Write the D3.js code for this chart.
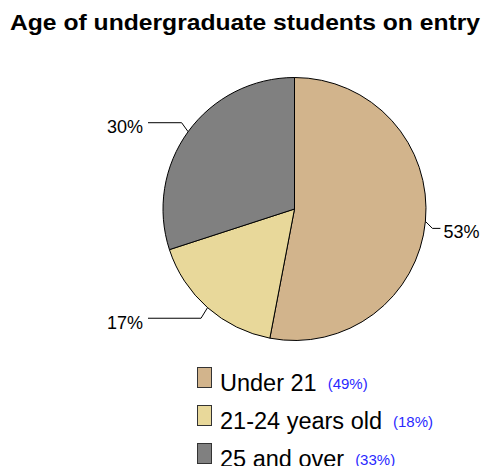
<!DOCTYPE html>
<html><head><meta charset="utf-8">
<script src="https://cdn.jsdelivr.net/npm/d3@7"></script>
<style>body{margin:0;background:#fff}svg{display:block}text{font-family:"Liberation Sans",Arial,sans-serif}</style>
</head><body>
<script>
const title = "Age of undergraduate students on entry";
const categories = ["Under 21", "21-24 years old", "25 and over"];
const values = [53, 17, 30];
const legendPct = ["(49%)", "(18%)", "(33%)"];
const colors = ["#D2B48C", "#E8D89A", "#808080"];

const W = 488, H = 466;
const svg = d3.select("body").append("svg").attr("width", W).attr("height", H);

svg.append("text").attr("x", 10).attr("y", 30)
  .attr("font-size", 22).attr("font-weight", "bold")
  .attr("textLength", 470).attr("lengthAdjust", "spacingAndGlyphs")
  .text(title);

const cx = 294.5, cy = 209, r = 131.5;
const pie = d3.pie().sort(null).value(d => d)(values);
const arc = d3.arc().innerRadius(0).outerRadius(r);
const g = svg.append("g").attr("transform", `translate(${cx},${cy})`);
g.selectAll("path").data(pie).join("path")
  .attr("d", arc).attr("fill", (d, i) => colors[i])
  .attr("stroke", "#000").attr("stroke-width", 1).attr("stroke-linejoin", "round");

// leader lines + labels
const lab = g.append("g");
pie.forEach((d, i) => {
  const a = (d.startAngle + d.endAngle) / 2;
  const ex = r * Math.sin(a), ey = -r * Math.cos(a);
  const right = Math.sin(a) > 0;
  let pts, tx, ty, anchor;
  if (right) {
    const elx = ex + 7, ely = ey + 7;
    pts = [[ex, ey], [elx, ely], [elx + 8, ely]];
    tx = elx + 11; ty = ely + 10; anchor = "start";
  } else {
    const down = Math.cos(a) < 0;
    const elx = ex - 6.5, ely = down ? ey + 10.6 : ey - 9;
    pts = [[ex, ey], [elx, ely], [-cx + 148, ely]];
    tx = -cx + 143; ty = ely + 10.5; anchor = "end";
  }
  lab.append("path").attr("d", d3.line()(pts)).attr("fill", "none")
    .attr("stroke", "#000").attr("stroke-width", 1);
  lab.append("text").attr("x", tx).attr("y", ty).attr("text-anchor", anchor)
    .attr("font-size", 18).attr("fill", "#000").text(values[i] + "%");
});

// legend
const leg = svg.append("g");
categories.forEach((c, i) => {
  const by = 390.5 + i * 38;
  leg.append("rect").attr("x", 197.5).attr("y", by - 23).attr("width", 14).attr("height", 20)
    .attr("fill", colors[i]).attr("stroke", "#333").attr("stroke-width", 1);
  const t = leg.append("text").attr("x", 220).attr("y", by).attr("font-size", 23.5)
    .attr("fill", "#000").text(c);
  const w = t.node().getComputedTextLength();
  leg.append("text").attr("x", 220 + w + 11).attr("y", by - 2).attr("font-size", 15)
    .attr("fill", "#2929ff").text(legendPct[i]);
});
</script>
</body></html>
